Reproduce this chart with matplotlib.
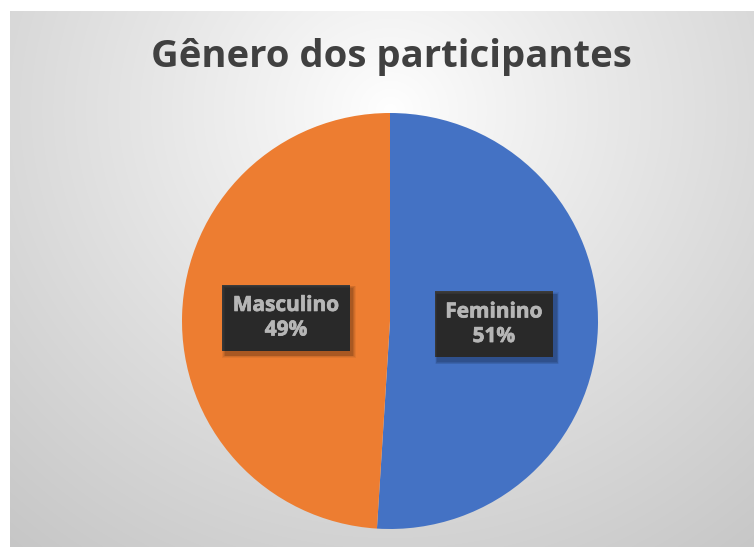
import numpy as np
import matplotlib
matplotlib.use("Agg")
import matplotlib.pyplot as plt
import matplotlib.patheffects as pe
from matplotlib.patches import Rectangle
from matplotlib.font_manager import FontProperties

# data
categories = ["Feminino", "Masculino"]
percentages = [51, 49]
colors = ["#4472C4", "#ED7D31"]
title = "Gênero dos participantes"

matplotlib.rcParams["hatch.color"] = "#474747"
matplotlib.rcParams["hatch.linewidth"] = 0.6

W, H = 754, 547
DPI = 100
fig = plt.figure(figsize=(W / DPI, H / DPI), dpi=DPI, facecolor="white")

# chart area with a soft radial gradient background
x0, y0 = 10, 11  # left / top margin in pixels
bg = fig.add_axes([x0 / W, 0, (W - x0) / W, (H - y0) / H])
bg.set_axis_off()
yy, xx = np.mgrid[y0:H, x0:W]
cx, cy = 390, 110
d = np.sqrt(((xx - cx) / 1.05) ** 2 + ((yy - cy) / 1.0) ** 2)
t = np.clip(d / 560.0, 0, 1) ** 0.9
lo, hi = 1.0, 0.78
g = hi + (lo - hi) * (1 - t)
bg.imshow(np.dstack([g, g, g]), aspect="auto", extent=[0, 1, 0, 1], zorder=0)
bg.set_xlim(0, 1)
bg.set_ylim(0, 1)

# title
title_font = FontProperties(family=["Open Sans", "DejaVu Sans"], weight="bold", size=27.5)
fig.text(391 / W, 1 - 57 / H, title, ha="center", va="center",
         fontproperties=title_font, color="#404040")

# pie
label_font = FontProperties(family=["Open Sans", "DejaVu Sans"], weight="bold", size=15)
pcx, pcy, r = 390, 321, 208
ax = fig.add_axes([(pcx - r) / W, (H - pcy - r) / H, 2 * r / W, 2 * r / H])
ax.set_axis_off()
wedges, texts = ax.pie(percentages, colors=colors, startangle=90,
                       counterclock=False, radius=1.0,
                       labels=[f"{c}\n{p}%" for c, p in zip(categories, percentages)],
                       labeldistance=0.5,
                       textprops=dict(fontproperties=label_font, color="white"),
                       wedgeprops=dict(linewidth=0))
ax.set_xlim(-1, 1)
ax.set_ylim(-1, 1)
ax.set_aspect("equal")

for txt in texts:
    txt.set_ha("center")
    txt.set_va("center")
    txt.set_linespacing(1.22)
    txt.set_bbox(dict(boxstyle="square,pad=0.5", facecolor="#3b3b3b",
                      edgecolor="#3b3b3b", linewidth=0.0, hatch="....."))
    txt.set_path_effects([pe.withStroke(linewidth=0.5, foreground="white")])
    txt.set_zorder(5)

# soft drop shadows behind the label boxes
fig.canvas.draw()
renderer = fig.canvas.get_renderer()
for txt in texts:
    ext = txt.get_bbox_patch().get_window_extent(renderer)
    for k, a in [(6, 0.05), (4.5, 0.07), (3, 0.09), (1.5, 0.1)]:
        rect = Rectangle((ext.x0 + 3 - k / 2, ext.y0 - 4 - k / 2),
                         ext.width + k, ext.height + k,
                         transform=None, facecolor="black", alpha=a,
                         linewidth=0, zorder=4)
        fig.add_artist(rect)

fig.savefig("out.png", dpi=DPI, facecolor="white")
